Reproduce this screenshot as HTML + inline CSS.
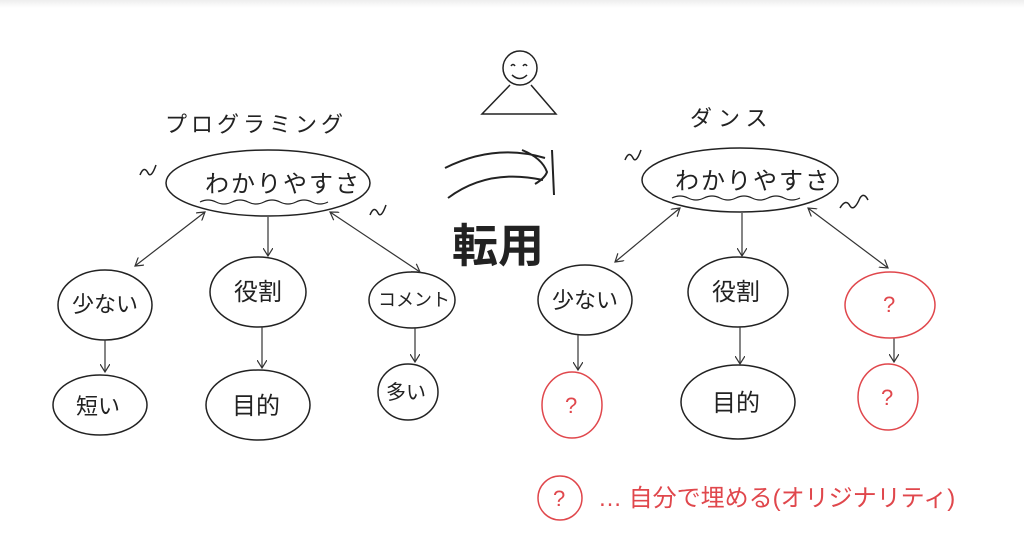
<!DOCTYPE html>
<html><head><meta charset="utf-8"><style>
html,body{margin:0;padding:0;background:#fff;}
body{width:1024px;height:546px;overflow:hidden;position:relative;}
svg{position:absolute;left:0;top:0;}
text{font-family:"Liberation Sans","Noto Sans CJK JP",sans-serif;}
</style></head><body>
<svg width="1024" height="546" viewBox="0 0 1024 546">
<defs>
<linearGradient id="g" x1="0" y1="0" x2="0" y2="1"><stop offset="0" stop-color="#eee"/><stop offset="1" stop-color="#fff"/></linearGradient>
<marker id="a" markerWidth="10" markerHeight="10" refX="8" refY="5" orient="auto-start-reverse" markerUnits="userSpaceOnUse"><path d="M0,0 L8,5 L0,10" fill="none" stroke="#333" stroke-width="1.2"/></marker>
</defs>
<rect x="0" y="0" width="1024" height="8" fill="url(#g)"/>
<g fill="none" stroke="#222" stroke-width="1.5">
<circle cx="520" cy="68" r="17"/>
<path d="M511,66 q2,-3 4,0 M523,66 q2,-3 4,0 M512,75 q8,7 15,0"/>
<path d="M510,85 L482,114 L556,114 L531,85"/>
<path d="M445,168 q50,-25 100,-10 M448,198 q40,-30 95,-18 M522,150 q20,8 25,22 q-2,6 -12,12 M552,150 l2,45" stroke-width="2"/>
<ellipse cx="268" cy="183" rx="102" ry="33"/>
<path d="M200,202 q8,-4 16,0 t16,0 t16,0 t16,0 t16,0 t16,0 t16,0 t16,0" stroke-width="1.2"/>
<path d="M140,175 q4,-10 8,-2 q3,6 8,-8" />
<path d="M370,215 q4,-10 8,-2 q3,6 8,-8" />
<ellipse cx="105" cy="305" rx="47" ry="35"/>
<ellipse cx="258" cy="292" rx="48" ry="35"/>
<ellipse cx="412" cy="300" rx="43" ry="28"/>
<ellipse cx="100" cy="405" rx="47" ry="30"/>
<ellipse cx="258" cy="405" rx="52" ry="35"/>
<ellipse cx="408" cy="392" rx="30" ry="28"/>
<ellipse cx="740" cy="180" rx="98" ry="32"/>
<path d="M672,198 q8,-4 16,0 t16,0 t16,0 t16,0 t16,0 t16,0 t16,0 t16,0" stroke-width="1.2"/>
<path d="M625,160 q4,-10 8,-2 q3,6 8,-8" />
<path d="M840,208 q6,-10 10,-2 q4,6 10,-8 q4,-6 8,2" />
<ellipse cx="585" cy="300" rx="47" ry="35"/>
<ellipse cx="738" cy="292" rx="50" ry="35"/>
<ellipse cx="738" cy="402" rx="57" ry="37"/>
</g>
<g fill="none" stroke="#333" stroke-width="1.2">
<line x1="205" y1="212" x2="135" y2="266" marker-start="url(#a)" marker-end="url(#a)"/>
<line x1="268" y1="217" x2="268" y2="256" marker-end="url(#a)"/>
<line x1="330" y1="212" x2="420" y2="272" marker-start="url(#a)" marker-end="url(#a)"/>
<line x1="105" y1="340" x2="105" y2="372" marker-end="url(#a)"/>
<line x1="262" y1="327" x2="262" y2="368" marker-end="url(#a)"/>
<line x1="415" y1="328" x2="415" y2="362" marker-end="url(#a)"/>
<line x1="680" y1="208" x2="615" y2="262" marker-start="url(#a)" marker-end="url(#a)"/>
<line x1="742" y1="213" x2="742" y2="256" marker-end="url(#a)"/>
<line x1="808" y1="208" x2="888" y2="268" marker-start="url(#a)" marker-end="url(#a)"/>
<line x1="578" y1="335" x2="578" y2="370" marker-end="url(#a)"/>
<line x1="740" y1="327" x2="740" y2="364" marker-end="url(#a)"/>
<line x1="894" y1="338" x2="894" y2="362" marker-end="url(#a)"/>
</g>
<g fill="none" stroke="#e0474c" stroke-width="1.5">
<ellipse cx="890" cy="305" rx="45" ry="33"/>
<ellipse cx="572" cy="405" rx="30" ry="33"/>
<ellipse cx="888" cy="397" rx="30" ry="33"/>
<circle cx="560" cy="498" r="22"/>
</g>
<g fill="#222" font-size="22">
<text x="165" y="132" letter-spacing="4">プログラミング</text>
<text x="205" y="192" font-size="24" letter-spacing="2">わかりやすさ</text>
<text x="72" y="312">少ない</text>
<text x="234" y="300" font-size="24">役割</text>
<text x="378" y="306" font-size="18">コメント</text>
<text x="76" y="414">短い</text>
<text x="232" y="414" font-size="24">目的</text>
<text x="386" y="399" font-size="20">多い</text>
<text x="452" y="262" font-size="46" font-weight="bold">転用</text>
<text x="690" y="126" letter-spacing="6">ダンス</text>
<text x="675" y="189" font-size="24" letter-spacing="2">わかりやすさ</text>
<text x="552" y="308">少ない</text>
<text x="712" y="300" font-size="24">役割</text>
<text x="712" y="411" font-size="24">目的</text>
</g>
<g fill="#e0474c" font-size="22">
<text x="883" y="312">?</text>
<text x="565" y="413">?</text>
<text x="881" y="405">?</text>
<text x="553" y="506">?</text>
<text x="598" y="506" font-size="24">… 自分で埋める(オリジナリティ)</text>
</g>
</svg>
</body></html>
